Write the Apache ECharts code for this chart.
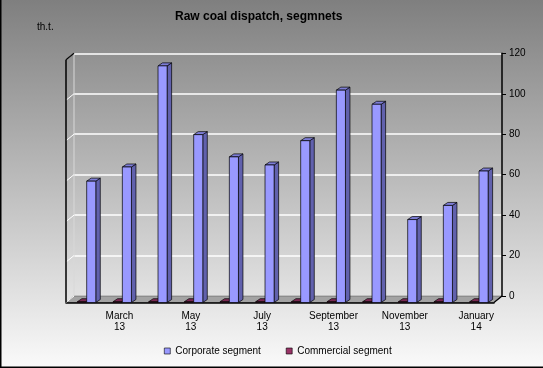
<!DOCTYPE html>
<html><head><meta charset="utf-8">
<script src="https://cdn.jsdelivr.net/npm/echarts@6/dist/echarts.min.js"></script>
<style>
html,body{margin:0;padding:0;}
#c{width:543px;height:368px;background:linear-gradient(to bottom,#7f7f7f 0%,#fafafa 100%);}
</style></head><body><div id="c"></div>
<script>
const categories = ['February 13','March 13','April 13','May 13','June 13','July 13','August 13','September 13','October 13','November 13','December 13','January 14'];
const corporate = [60, 67, 117, 83, 72, 68, 80, 105, 98, 41, 48, 65];
const commercial = [0.4, 0.4, 0.4, 0.4, 0.4, 0.4, 0.4, 0.4, 0.4, 0.4, 0.4, 0.4];
const yTicks = [0, 20, 40, 60, 80, 100, 120];
const titleText = 'Raw coal dispatch, segmnets';
const unitText = 'th.t.';
const seriesNames = ['Corporate segment', 'Commercial segment'];

const FONT = '"Liberation Sans", Arial, sans-serif';
const BACK = {left: 74, right: 502, top: 53.3, bottom: 296};
const DX = 8, DY = 6.5;
const BDX = 4.5, BDY = 3;

function boxRenderer(f0, f1, fill, side, top) {
  return function (params, api) {
    const idx = api.value(0), v = api.value(1);
    const p = api.coord([idx, v]);
    const b = api.coord([idx, 0]);
    const bw = api.size([1, 0])[0];
    const x0 = p[0] + f0 * bw, x1 = p[0] + f1 * bw;
    const yt = p[1], yb = b[1];
    const st = {stroke: '#000', lineWidth: 0.7};
    return {type: 'group', children: [
      {type: 'polygon', shape: {points: [[x1, yt], [x1 + BDX, yt - BDY], [x1 + BDX, yb - BDY], [x1, yb]]}, style: Object.assign({fill: side}, st)},
      {type: 'polygon', shape: {points: [[x0, yt], [x0 + BDX, yt - BDY], [x1 + BDX, yt - BDY], [x1, yt]]}, style: Object.assign({fill: top}, st)},
      {type: 'rect', shape: {x: x0, y: yt, width: x1 - x0, height: Math.max(yb - yt, 0.5)}, style: Object.assign({fill: fill}, st)}
    ]};
  };
}

const chart = echarts.init(document.getElementById('c'), null, {renderer: 'canvas'});
const option = {
  backgroundColor: 'transparent',
  animation: false,
  title: [
    {text: titleText, left: 175, top: 11, padding: 0, textStyle: {fontFamily: FONT, fontSize: 12, fontWeight: 'bold', color: '#000'}},
    {text: unitText, left: 37, top: 22, padding: 0, textStyle: {fontFamily: FONT, fontSize: 10, fontWeight: 'normal', color: '#000'}}
  ],
  legend: {
    left: 164, top: 346, padding: 0, itemGap: 25, itemWidth: 6, itemHeight: 6,
    icon: 'rect',
    data: seriesNames,
    textStyle: {fontFamily: FONT, fontSize: 10, color: '#000'},
    itemStyle: {borderColor: '#000', borderWidth: 0.6}
  },
  grid: [
    {left: BACK.left, right: 543 - BACK.right, top: BACK.top, bottom: 368 - BACK.bottom},
    {left: BACK.left - DX, right: 543 - BACK.right + DX, top: BACK.top + DY, bottom: 368 - BACK.bottom - DY}
  ],
  xAxis: [
    {gridIndex: 0, type: 'category', data: categories, show: false},
    {gridIndex: 1, type: 'category', data: categories, boundaryGap: true,
      axisLine: {lineStyle: {color: '#000', width: 1.5}},
      axisTick: {interval: 0, length: 4, lineStyle: {color: '#000', width: 1}},
      axisLabel: {interval: function (i) { return i % 2 === 1; }, margin: 8, fontFamily: FONT, fontSize: 10, lineHeight: 11, color: '#000',
        formatter: function (v) { return v.replace(' ', '\n'); }}
    }
  ],
  yAxis: [
    {gridIndex: 0, type: 'value', position: 'right', min: 0, max: 120, interval: 20,
      axisLine: {show: true, lineStyle: {color: '#000', width: 1.5}},
      axisTick: {show: true, length: 4, lineStyle: {color: '#000'}},
      axisLabel: {margin: 7, fontFamily: FONT, fontSize: 10, color: '#000'},
      splitLine: {show: true, lineStyle: {color: '#ffffff', width: 1.5}}
    },
    {gridIndex: 1, type: 'value', min: 0, max: 120, interval: 20, show: false}
  ],
  series: [
    {name: seriesNames[0], type: 'custom', xAxisIndex: 1, yAxisIndex: 1, z: 4,
      itemStyle: {color: '#9999ff', borderColor: '#000'},
      renderItem: boxRenderer(0.08, 0.335, '#9999ff', '#6161ad', '#7d7dd6'),
      data: corporate.map(function (v, i) { return [i, v]; })},
    {name: seriesNames[1], type: 'custom', xAxisIndex: 1, yAxisIndex: 1, z: 3,
      itemStyle: {color: '#993366', borderColor: '#000'},
      renderItem: boxRenderer(-0.18, 0.07, '#993366', '#5e1f3f', '#7a2952'),
      data: commercial.map(function (v, i) { return [i, v]; })}
  ]
};
chart.setOption(option);

// structural decorations of the 3D frame
const wallLines = yTicks.map(function (t) {
  const y = chart.convertToPixel({yAxisIndex: 0}, t);
  return {type: 'line', z: 1, shape: {x1: BACK.left, y1: y, x2: BACK.left - DX, y2: y + DY}, style: {stroke: '#ffffff', lineWidth: 1}};
});
chart.setOption({graphic: [
  {type: 'polygon', z: 0, shape: {points: [[BACK.left - DX, BACK.bottom + DY], [BACK.left, BACK.bottom], [BACK.right, BACK.bottom], [BACK.right - DX, BACK.bottom + DY]]},
    style: {fill: '#a3a3a3', stroke: '#6a6a6a', lineWidth: 0.8}},
  {type: 'line', z: 1, shape: {x1: BACK.left, y1: BACK.top, x2: BACK.left, y2: BACK.bottom}, style: {stroke: '#d8d8d8', lineWidth: 1}}
].concat(wallLines).concat([
  {type: 'line', z: 5, shape: {x1: BACK.left - DX, y1: BACK.top + DY, x2: BACK.left - DX, y2: BACK.bottom + DY}, style: {stroke: '#000', lineWidth: 1.5}},
  {type: 'line', z: 5, shape: {x1: BACK.left - DX, y1: BACK.top + DY, x2: BACK.left, y2: BACK.top}, style: {stroke: '#000', lineWidth: 1.2}},
  {type: 'line', z: 5, shape: {x1: BACK.right, y1: BACK.bottom, x2: BACK.right - DX, y2: BACK.bottom + DY}, style: {stroke: '#000', lineWidth: 1.2}},
  {type: 'line', z: 5, shape: {x1: 0.75, y1: 0, x2: 0.75, y2: 368}, style: {stroke: '#000', lineWidth: 1.5}},
  {type: 'line', z: 5, shape: {x1: 0, y1: 367.25, x2: 543, y2: 367.25}, style: {stroke: '#000', lineWidth: 1.5}}
])});
</script>
</body></html>
